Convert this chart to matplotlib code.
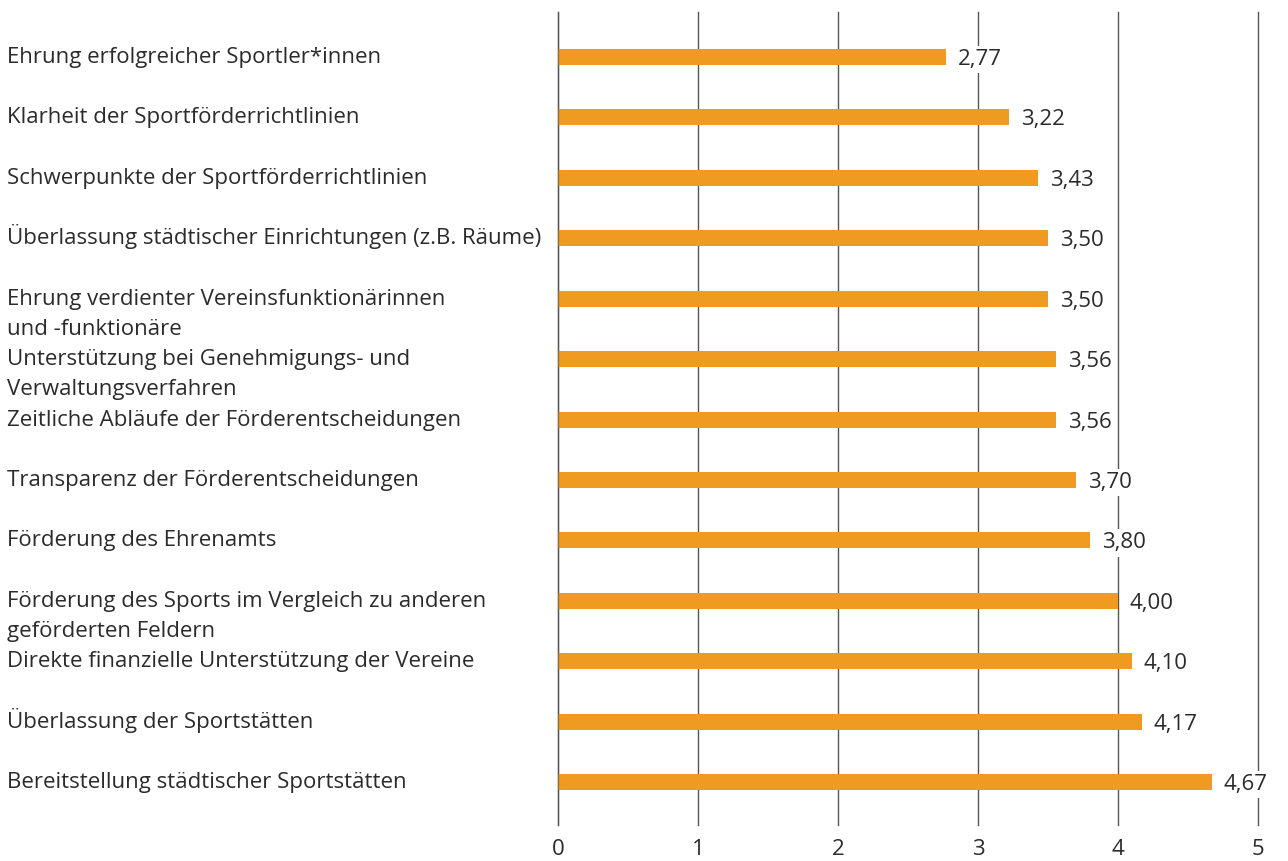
import matplotlib
matplotlib.use("Agg")
import matplotlib.pyplot as plt
import matplotlib.transforms as mtransforms

categories = [
    "Ehrung erfolgreicher Sportler*innen",
    "Klarheit der Sportförderrichtlinien",
    "Schwerpunkte der Sportförderrichtlinien",
    "Überlassung städtischer Einrichtungen (z.B. Räume)",
    "Ehrung verdienter Vereinsfunktionärinnen\nund -funktionäre",
    "Unterstützung bei Genehmigungs- und\nVerwaltungsverfahren",
    "Zeitliche Abläufe der Förderentscheidungen",
    "Transparenz der Förderentscheidungen",
    "Förderung des Ehrenamts",
    "Förderung des Sports im Vergleich zu anderen\ngeförderten Feldern",
    "Direkte finanzielle Unterstützung der Vereine",
    "Überlassung der Sportstätten",
    "Bereitstellung städtischer Sportstätten",
]
values = [2.77, 3.22, 3.43, 3.50, 3.50, 3.56, 3.56, 3.70, 3.80, 4.00, 4.10, 4.17, 4.67]
value_labels = ["2,77", "3,22", "3,43", "3,50", "3,50", "3,56", "3,56",
                "3,70", "3,80", "4,00", "4,10", "4,17", "4,67"]
xticks = [0, 1, 2, 3, 4, 5]

BAR = "#EF9B22"
TXT = "#2b2b2b"
FONT = "Open Sans"
FS = 16
plt.rcParams["font.family"] = [FONT, "DejaVu Sans"]

W, H = 1288, 861
fig = plt.figure(figsize=(W / 100, H / 100), dpi=100)
ax = fig.add_axes([558 / W, 1 - 825 / H, 700 / W, 813 / H])

ypos = list(range(len(categories)))
ax.barh(ypos, values, height=0.265, color=BAR, zorder=2)

ax.set_xlim(0, 5)
ax.set_ylim(len(categories) - 1 + 0.71, -0.745)
for x in xticks:
    ax.axvline(x, color="#555555", lw=1.0, zorder=1, clip_on=False)
ax.axvline(0, color="#555555", lw=1.0, alpha=0.6, zorder=3, clip_on=False)

for s in ax.spines.values():
    s.set_visible(False)
ax.set_yticks([])
ax.set_xticks(xticks)
ax.set_xticklabels([str(x) for x in xticks], fontsize=FS, color=TXT)
ax.tick_params(axis="x", length=0, pad=10)

# value labels
for y, v, lab in zip(ypos, values, value_labels):
    ax.annotate(lab, xy=(v, y), xytext=(12, 0), textcoords="offset pixels",
                ha="left", va="center_baseline", fontsize=FS, color=TXT,
                bbox=dict(boxstyle="square,pad=0.15", fc="white", ec="none"),
                zorder=4)

# category labels
base = mtransforms.blended_transform_factory(fig.transFigure, ax.transData)
for y, cat in zip(ypos, categories):
    for i, line in enumerate(cat.split("\n")):
        tr = base + mtransforms.ScaledTranslation(0, -(6 + 30 * i) / 100, fig.dpi_scale_trans)
        fig.text(7 / W, y, line, transform=tr, ha="left", va="baseline",
                 fontsize=FS, color=TXT)

fig.savefig("out.png", dpi=100, facecolor="white")
